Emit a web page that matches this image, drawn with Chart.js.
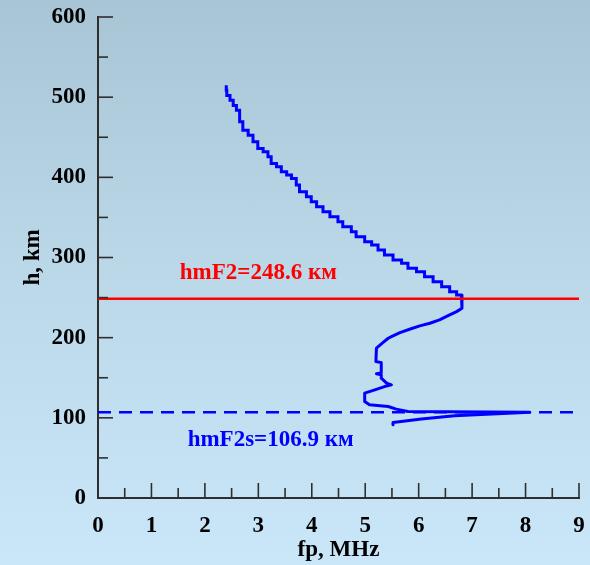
<!DOCTYPE html>
<html lang="ru">
<head>
<meta charset="UTF-8">
<title>Профиль fp(h)</title>
<script src="https://cdn.jsdelivr.net/npm/chart.js"></script>
<style>
  body { margin: 0; }
  #wrap {
    width: 590px; height: 565px;
    background: linear-gradient(to bottom, #a8c5d5 0%, #bad7e8 45%, #c9e7f8 100%);
  }
</style>
</head>
<body>
<div id="wrap"><canvas id="profile" width="590" height="565"></canvas></div>
<script>
// upper part of the profile (stair-stepped digitisation), top -> hmF2
const upperFreq = [2.40, 2.41, 2.47, 2.53, 2.59, 2.65, 2.71, 2.81, 2.90, 2.99, 3.09, 3.18, 3.24, 3.34, 3.43, 3.53, 3.62, 3.71,
                   3.77, 3.90, 3.99, 4.09, 4.21, 4.34, 4.49, 4.58, 4.74, 4.83, 4.99, 5.12, 5.24,
                   5.36, 5.52, 5.68, 5.80, 5.96, 6.11, 6.27, 6.43, 6.58, 6.71, 6.80];
const upperHeight = [514.9, 508.7, 502.0, 496.2, 489.5, 483.7, 469.2, 458.8, 452.6, 444.3, 436.0, 431.8, 425.6, 417.3, 413.1, 406.9, 402.8, 398.7,
                     390.3, 382.0, 375.7, 369.5, 363.3, 357.0, 350.8, 344.6, 338.4, 332.1, 325.9, 319.7, 315.6,
                     309.3, 303.1, 296.9, 292.8, 286.5, 282.3, 276.1, 269.8, 263.6, 257.4, 253.3];

// lower part: hmF2 -> valley -> sporadic layer spike
const lowerFreq = [6.80, 6.81, 6.71, 6.58, 6.39, 6.21, 6.02, 5.83, 5.65, 5.49, 5.43, 5.33, 5.21, 5.20, 5.30, 5.30,
                   5.21, 5.30, 5.30, 5.40, 5.49, 5.36, 5.18, 4.99, 4.99, 5.08, 5.43, 5.58, 5.80, 8.08,
                   6.67, 6.05, 5.52, 5.52];
const lowerHeight = [253.3, 236.7, 232.5, 228.4, 222.1, 218.0, 214.7, 210.5, 206.3, 201.3, 199.3, 193.8, 186.9, 170.2, 168.9, 156.0,
                     154.9, 153.6, 149.5, 143.3, 141.1, 139.0, 134.9, 130.8, 120.3, 116.2, 114.1, 110.9, 107.9, 106.9,
                     102.5, 98.4, 94.2, 91.3];

const hmF2 = 248.6;
const hmF2s = 106.9;
const freqRange = [0, 9];

const xTicksMajor = [0, 1, 2, 3, 4, 5, 6, 7, 8, 9];
const xTicksMinor = [0.5, 1.5, 2.5, 3.5, 4.5, 5.5, 6.5, 7.5, 8.5];
const yTicksMajor = [0, 100, 200, 300, 400, 500, 600];
const yTicksMinor = [50, 150, 250, 350, 450, 550];

const labelF2 = 'hmF2=' + hmF2 + ' км';
const labelF2s = 'hmF2s=' + hmF2s + ' км';

const toPoints = (xs, ys) => xs.map((v, i) => ({ x: v, y: ys[i] }));
const FONT = '"Liberation Serif", "Times New Roman", serif';
const AXIS = '#2e2e2e';

// tick marks point into the plot area
const innerTicks = {
  id: 'innerTicks',
  afterDraw(chart) {
    const { ctx, chartArea: a, scales: { x, y } } = chart;
    ctx.save();
    ctx.strokeStyle = AXIS;
    ctx.lineWidth = 1.6;
    const tick = (x1, y1, x2, y2) => { ctx.beginPath(); ctx.moveTo(x1, y1); ctx.lineTo(x2, y2); ctx.stroke(); };
    yTicksMajor.forEach(v => { const p = y.getPixelForValue(v); tick(a.left, p, a.left + 15, p); });
    yTicksMinor.forEach(v => { const p = y.getPixelForValue(v); tick(a.left, p, a.left + 10, p); });
    xTicksMajor.forEach(v => { const p = x.getPixelForValue(v); tick(p, a.bottom, p, a.bottom - 15); });
    xTicksMinor.forEach(v => { const p = x.getPixelForValue(v); tick(p, a.bottom, p, a.bottom - 10); });
    ctx.restore();
  }
};

const layerLabels = {
  id: 'layerLabels',
  afterDatasetsDraw(chart) {
    const { ctx, scales: { x, y } } = chart;
    ctx.save();
    ctx.font = 'bold 23px ' + FONT;
    ctx.textAlign = 'center';
    ctx.textBaseline = 'middle';
    ctx.fillStyle = '#ff0000';
    ctx.fillText(labelF2, x.getPixelForValue(3.0), y.getPixelForValue(281));
    ctx.fillStyle = '#0000ff';
    ctx.fillText(labelF2s, x.getPixelForValue(3.23), y.getPixelForValue(72));
    ctx.restore();
  }
};

new Chart(document.getElementById('profile'), {
  type: 'scatter',
  data: {
    datasets: [
      {
        label: 'hmF2',
        data: toPoints(freqRange, [hmF2, hmF2]),
        showLine: true, borderColor: '#ff0000', borderWidth: 2.5, pointRadius: 0
      },
      {
        label: 'hmF2s',
        data: toPoints(freqRange, [hmF2s, hmF2s]),
        showLine: true, borderColor: '#0000ff', borderWidth: 2.5, borderDash: [13, 8], pointRadius: 0
      },
      {
        label: 'fp upper',
        data: toPoints(upperFreq, upperHeight),
        showLine: true, stepped: 'after', borderColor: '#0000ff', borderWidth: 3, pointRadius: 0
      },
      {
        label: 'fp lower',
        data: toPoints(lowerFreq, lowerHeight),
        showLine: true, borderColor: '#0000ff', borderWidth: 3, pointRadius: 0,
        borderJoinStyle: 'round'
      }
    ]
  },
  options: {
    responsive: false,
    animation: false,
    layout: { padding: { top: 17, right: 11, left: 0, bottom: 0 } },
    plugins: { legend: { display: false }, tooltip: { enabled: false } },
    scales: {
      x: {
        type: 'linear', min: 0, max: 9,
        grid: { display: false, drawTicks: false },
        border: { display: true, color: AXIS, width: 2 },
        ticks: { stepSize: 1, color: '#000', padding: 14, font: { family: FONT, size: 23, weight: 'bold' } },
        title: { display: true, text: 'fp, MHz', color: '#000', padding: { top: 0, bottom: 1 },
                 font: { family: FONT, size: 23, weight: 'bold' } },
        afterFit(s) { s.height = 67; s.paddingLeft = 0; s.paddingRight = 0; }
      },
      y: {
        type: 'linear', min: 0, max: 600,
        grid: { display: false, drawTicks: false },
        border: { display: true, color: AXIS, width: 2 },
        ticks: { stepSize: 100, color: '#000', padding: 12, font: { family: FONT, size: 23, weight: 'bold' } },
        title: { display: true, text: 'h, km', color: '#000', padding: { top: 19, bottom: 0 },
                 font: { family: FONT, size: 23, weight: 'bold' } },
        afterFit(s) { s.width = 98; s.paddingTop = 0; s.paddingBottom = 0; }
      }
    }
  },
  plugins: [innerTicks, layerLabels]
});
</script>
</body>
</html>
